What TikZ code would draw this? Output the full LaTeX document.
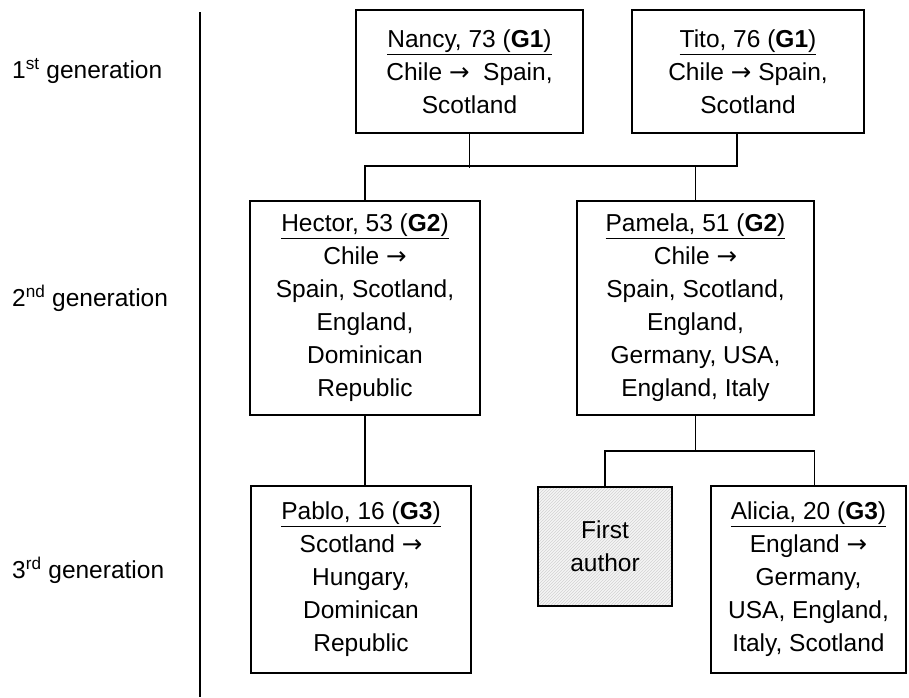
\documentclass[tikz,border=0pt]{standalone}
\usepackage{fontspec}
\setmainfont{Liberation Sans}
\newfontfamily\arrowfont{DejaVu Sans}
\usepackage{tikz}
\usetikzlibrary{patterns}
\newcommand{\toarr}{{\arrowfont →}}
\tikzset{
  person/.style={draw, line width=1.6pt, align=center, inner sep=0pt,
    font=\fontsize{24.5}{33}\selectfont},
  genlabel/.style={anchor=west, inner sep=0pt, font=\fontsize{24.5}{33}\selectfont},
  link/.style={line width=1.6pt}
}

\begin{document}
\begin{tikzpicture}[x=1pt, y=-1pt]
		\useasboundingbox (0,0) rectangle (909,697);
		\node[genlabel] (gen1) at (12, 71) {1\textsuperscript{st} generation};
		\node[genlabel] (gen2) at (12, 298) {2\textsuperscript{nd} generation};
		\node[genlabel] (gen3) at (12, 570) {3\textsuperscript{rd} generation};
		\draw[link] (200, 12) -- (200, 697);
		\node[person, minimum width=227, minimum height=123] (nancy) at (469.5, 71.5) {\underline{Nancy, 73 (\textbf{G1})}\\ Chile \toarr\ \ Spain,\\ Scotland};
		\node[person, minimum width=232, minimum height=123] (tito) at (748, 71.5) {\underline{Tito, 76 (\textbf{G1})}\\ Chile \toarr\ Spain,\\ Scotland};
		\node[person, minimum width=230, minimum height=214] (hector) at (365, 308) {\underline{Hector, 53 (\textbf{G2})}\\ Chile \toarr\\ Spain, Scotland,\\ England,\\ Dominican\\ Republic};
		\node[person, minimum width=237, minimum height=214] (pamela) at (695.5, 308) {\underline{Pamela, 51 (\textbf{G2})}\\ Chile \toarr\\ Spain, Scotland,\\ England,\\ Germany, USA,\\ England, Italy};
		\node[person, minimum width=220, minimum height=187] (pablo) at (361, 579.5) {\underline{Pablo, 16 (\textbf{G3})}\\ Scotland \toarr\\ Hungary,\\ Dominican\\ Republic};
		\node[person, minimum width=134, minimum height=119, pattern=north east lines, pattern color=gray!35, preaction={fill=gray!8}] (first) at (605, 546.5) {First\\ author};
		\node[person, minimum width=195, minimum height=187] (alicia) at (808.5, 579.5) {\underline{Alicia, 20 (\textbf{G3})}\\ England \toarr\\ Germany,\\ USA, England,\\ Italy, Scotland};
		\coordinate (titofoot) at ([xshift=-11pt]tito.south);
		\coordinate (aliciatop) at ([xshift=6pt]alicia.north);
		\draw[link] (nancy.south) -- ++(0,34);
		\draw[link] (hector.north) -- ++(0,-34) -| (titofoot);
		\draw[link] (pamela.north) -- ++(0,-34);
		\draw[link] (hector.south) -- (hector.south |- pablo.north);
		\draw[link] (pamela.south) -- ++(0,35) coordinate (g2bar);
		\draw[link] (first.north) -- (first.north |- g2bar) -| (aliciatop);
	\end{tikzpicture}
\end{document}
